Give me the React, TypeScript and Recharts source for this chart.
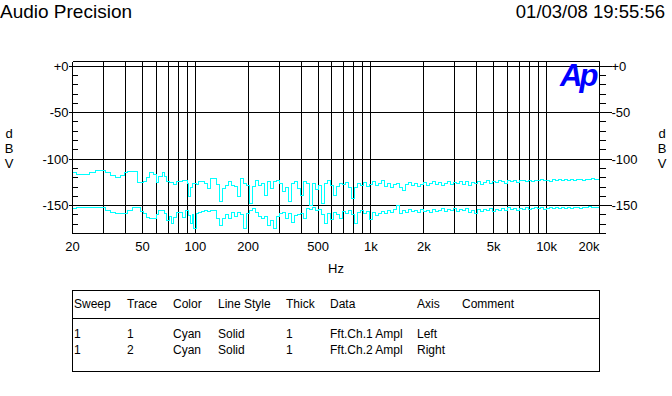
import { CartesianGrid, Line, LineChart, ReferenceLine, XAxis, YAxis } from 'recharts'

// FFT bins (Hz), then the two channel levels (dBV)
const FREQ_HZ = [
  20, 21, 23, 25, 27, 31, 33, 35, 37.5, 39.5, 41, 44, 47, 49, 51, 53, 55, 58, 60, 62,
  65, 67, 68.5, 71, 73, 75, 78, 82, 85, 88, 90, 92, 94, 96, 98, 101,
  104, 108, 113, 117, 122, 127, 132, 137, 143, 149, 155, 161, 167, 174, 181, 188, 196,
  204, 212, 220, 229, 238, 248, 258, 268, 279, 290, 302, 314, 326, 339, 353, 367, 382, 397,
  413, 430, 447, 465, 483, 503, 523, 544, 566, 589, 612, 637, 662, 689, 716, 745, 775, 806,
  838, 872, 907, 943, 981,
  1021, 1062, 1104, 1149, 1195, 1243, 1293, 1345, 1399, 1455, 1513, 1574, 1637, 1703, 1771, 1842, 1916, 1993,
  2073, 2156, 2243, 2333, 2426, 2524, 2625, 2730, 2840, 2954, 3072, 3196, 3324, 3458, 3596, 3741, 3891, 4047,
  4210, 4379, 4555, 4738, 4928,
  5126, 5332, 5546, 5769, 6000, 6241, 6492, 6753, 7024, 7306, 7600, 7905, 8222, 8553, 8896, 9254, 9625, 10012,
  10414, 10832, 11268, 11720, 12191, 12681, 13190, 13720, 14271, 14845, 15441, 16062, 16707, 17378, 18076,
  18802, 19558, 20000,
]

const CH1_DBV = [
  -114.4, -116.2, -116.2, -114.4, -112.2, -114.4, -117.3, -119.8, -118, -114.4, -113.7, -113.7, -125.6, -125.6,
  -123.8, -119.8, -114.4, -117, -125.6, -118.5, -114.4, -118.5, -123.8, -124.8, -124.8, -127.3, -123.8, -123.8,
  -122.7, -122.7, -126.3, -140.7, -130, -126.3, -126.3, -127.3,
  -124.5, -124.5, -126, -131.7, -121.3, -121.3, -127, -146, -131.7, -128, -124.5, -128, -129, -140.7, -120.9,
  -126.3, -128, -147.8, -129, -122.7, -128, -126.3, -138.9, -124.5, -132, -123.8, -122.7, -126.3, -135.3, -130,
  -146, -126.3, -124.5, -131.7, -138.9, -124.5, -126.3, -149.7, -126.3, -133, -128, -147.8, -126.3, -122.7,
  -128, -139, -129, -126, -127.5, -125, -131, -142.4, -130, -126, -128.5, -125, -129, -127,
  -124.5, -128, -126, -123.5, -129, -126.5, -130, -127, -126, -131, -134, -127, -125, -128, -126, -129, -127,
  -125, -128, -126, -124.5, -127, -125, -128, -126, -124, -127, -125, -126.5, -124,
  -127, -124, -128.5, -125, -126.5, -124, -127, -125, -123.5, -126, -124, -125.5, -123, -124.5, -126, -123.5,
  -124.5, -123, -125, -123.5, -122.5, -124, -123, -124.5, -122.5, -123.5, -122, -123.5, -122.5, -124, -122,
  -123, -121.5, -123, -122, -122.5, -121.5, -123, -122, -121.5, -122.5, -121.5, -122, -121, -122, -121.5, -121,
]

const CH2_DBV = [
  -153.2, -152.5, -151.5, -151.5, -152.2, -155, -156.9, -158, -158, -158.7, -155, -151.5, -151.5, -156, -158.7,
  -162.3, -164, -164, -160, -155, -155, -158, -165.9, -162, -168.8, -163, -156.9, -156.9, -163, -155, -155,
  -161, -169.4, -160, -174.8, -158,
  -157, -156, -155, -156.5, -155, -155.5, -164, -171.3, -164, -160, -164, -157, -162, -157, -160, -174.8, -159,
  -155, -153.2, -157, -162, -164, -162, -171, -166, -174.8, -162, -159, -157, -164, -159, -167.7, -161, -160,
  -159, -164, -153, -154.5, -151.5, -155, -154, -160, -169.4, -158,
  -165, -157, -160, -164, -156, -158, -155, -160, -169.4, -157, -155, -158, -156, -165,
  -157, -161, -158.5, -156, -159, -155, -157.5, -154, -150, -158, -155, -157, -154.5, -156.5, -155, -157, -154,
  -156, -155, -157.5, -154, -156, -155, -153.5, -156, -154.5, -155.5, -153.5, -156, -154,
  -155, -153, -157, -155.5, -158.5, -154, -156, -154.5, -155.5, -153, -156, -154, -155, -153.5, -155, -152.5,
  -154.5, -153.5, -155, -153, -154, -152.5, -154, -153, -152, -153.5, -152.5, -154, -153, -152, -153.5, -152.5,
  -153, -151.5, -153, -152, -153, -151.5, -152.5, -153, -151.5, -152.5, -151, -152.5, -151.5, -152, -151.5,
]

const GRID_HZ = [
  20, 30, 40, 50, 60, 70, 80, 90, 100, 200, 300, 400, 500, 600, 700, 800, 900,
  1000, 2000, 3000, 4000, 5000, 6000, 7000, 8000, 9000, 10000, 20000,
]
const LABEL_HZ = [20, 50, 100, 200, 500, 1000, 2000, 5000, 10000, 20000]
const LABEL_HZ_TEXT = ['20', '50', '100', '200', '500', '1k', '2k', '5k', '10k', '20k']

const DB_TICKS = [0, -10, -20, -30, -40, -50, -60, -70, -80, -90, -100, -110, -120, -130, -140, -150, -160, -170, -180]
const DB_MAJOR = [0, -50, -100, -150]
const DB_MAJOR_TEXT = ['+0', '-50', '-100', '-150']

const TABLE_HEAD = ['Sweep', 'Trace', 'Color', 'Line Style', 'Thick', 'Data', 'Axis', 'Comment']
const TABLE_ROWS = [
  ['1', '1', 'Cyan', 'Solid', '1', 'Fft.Ch.1 Ampl', 'Left'],
  ['1', '2', 'Cyan', 'Solid', '1', 'Fft.Ch.2 Ampl', 'Right'],
]

// layout
const W = 672
const H = 396
const PL = 72.5
const PR = 599.5
const PT = 61.5
const PB = 233.5
const FONT = '"Liberation Sans", Arial, sans-serif'
const COL_X = [74, 127, 173, 218, 286, 330, 417, 462]
const CYAN = '#00ffff'

const data = FREQ_HZ.map((f, i) => ({ f, ch1: CH1_DBV[i], ch2: CH2_DBV[i] }))

function LeftTick(props: any) {
  const { y, payload } = props
  const i = DB_MAJOR.indexOf(payload.value)
  if (i < 0) return <line x1={PL} x2={PL + 5} y1={y} y2={y} stroke="#000" shapeRendering="crispEdges" />
  return (
    <g>
      <line x1={PL - 4} x2={PL} y1={y} y2={y} stroke="#000" shapeRendering="crispEdges" />
      <text x={PL - 4} y={y} dy={4.5} textAnchor="end" fontSize={13} fontFamily={FONT} fill="#000">
        {DB_MAJOR_TEXT[i]}
      </text>
    </g>
  )
}

function RightTick(props: any) {
  const { y, payload } = props
  const i = DB_MAJOR.indexOf(payload.value)
  if (i < 0) return <line x1={PR} x2={PR + 6} y1={y} y2={y} stroke="#000" shapeRendering="crispEdges" />
  return (
    <g>
      <line x1={PR} x2={PR + 12} y1={y} y2={y} stroke="#000" shapeRendering="crispEdges" />
      <text x={PR + 12} y={y} dy={4.5} textAnchor="start" fontSize={13} fontFamily={FONT} fill="#000">
        {DB_MAJOR_TEXT[i]}
      </text>
    </g>
  )
}

function HzTick(props: any) {
  const { x, payload } = props
  const i = LABEL_HZ.indexOf(payload.value)
  if (i < 0) return <g />
  const last = i === LABEL_HZ.length - 1
  return (
    <text x={last ? PR : x} y={251} textAnchor={last ? 'end' : 'middle'} fontSize={13} fontFamily={FONT} fill="#000">
      {LABEL_HZ_TEXT[i]}
    </text>
  )
}

function Overlay() {
  const unit = ['d', 'B', 'V']
  return (
    <svg width={W} height={H} style={{ position: 'absolute', left: 0, top: 0, pointerEvents: 'none' }}>
      <g fontFamily={FONT} fill="#000">
        <text x={0} y={18} fontSize={19}>Audio Precision</text>
        <text x={665} y={18} fontSize={18.5} textAnchor="end">01/03/08 19:55:56</text>
        <text x={336} y={272.5} fontSize={13} textAnchor="middle">Hz</text>
        {unit.map((u, i) => (
          <g key={u}>
            <text x={9} y={137.5 + i * 15.3} fontSize={13} textAnchor="middle">{u}</text>
            <text x={662} y={137.5 + i * 15.3} fontSize={13} textAnchor="middle">{u}</text>
          </g>
        ))}
        <text x={560} y={86} fontSize={31} fontWeight="bold" fontStyle="italic" fill="#0000ff" letterSpacing={-3}>
          Ap
        </text>
      </g>
      <g fontFamily={FONT} fontSize={12} fill="#000">
        <rect x={72.5} y={290.5} width={527} height={81} fill="none" stroke="#000" />
        <line x1={72.5} x2={599.5} y1={318.5} y2={318.5} stroke="#000" />
        {TABLE_HEAD.map((h, c) => (
          <text key={h} x={COL_X[c]} y={308}>{h}</text>
        ))}
        {TABLE_ROWS.map((row, r) =>
          row.map((cell, c) => (
            <text key={`${r}-${c}`} x={COL_X[c]} y={338 + r * 16}>{cell}</text>
          )),
        )}
      </g>
    </svg>
  )
}

export default function App() {
  return (
    <div style={{ position: 'absolute', left: 0, top: 0, width: W, height: H, background: '#fff' }}>
      <LineChart
        width={W}
        height={H}
        data={data}
        margin={{ top: PT, left: PL - 40, right: W - PR - 40, bottom: H - PB - 30 }}
      >
        <CartesianGrid yAxisId="l" horizontal={false} stroke="#000" strokeWidth={1} shapeRendering="crispEdges" />
        <XAxis
          dataKey="f"
          type="number"
          scale="log"
          domain={[20, 20000]}
          ticks={GRID_HZ}
          interval={0}
          allowDataOverflow
          height={30}
          tickLine={false}
          axisLine={{ stroke: '#000', shapeRendering: 'crispEdges' }}
          tick={<HzTick />}
        />
        <YAxis
          yAxisId="l"
          orientation="left"
          type="number"
          domain={[-180, 5]}
          ticks={DB_TICKS}
          interval={0}
          allowDataOverflow
          width={40}
          tickLine={false}
          axisLine={{ stroke: '#000', shapeRendering: 'crispEdges' }}
          tick={<LeftTick />}
        />
        <YAxis
          yAxisId="r"
          orientation="right"
          type="number"
          domain={[-180, 5]}
          ticks={DB_TICKS}
          interval={0}
          allowDataOverflow
          width={40}
          tickLine={false}
          axisLine={{ stroke: '#000', shapeRendering: 'crispEdges' }}
          tick={<RightTick />}
        />
        <ReferenceLine yAxisId="l" y={5} stroke="#000" shapeRendering="crispEdges" />
        {DB_MAJOR.map((v) => (
          <ReferenceLine key={v} yAxisId="l" y={v} stroke="#000" shapeRendering="crispEdges" />
        ))}
        <Line
          yAxisId="l"
          dataKey="ch1"
          type="stepAfter"
          stroke={CYAN}
          strokeWidth={1}
          dot={false}
          isAnimationActive={false}
          shapeRendering="crispEdges"
        />
        <Line
          yAxisId="r"
          dataKey="ch2"
          type="stepAfter"
          stroke={CYAN}
          strokeWidth={1}
          dot={false}
          isAnimationActive={false}
          shapeRendering="crispEdges"
        />
      </LineChart>
      <Overlay />
    </div>
  )
}
